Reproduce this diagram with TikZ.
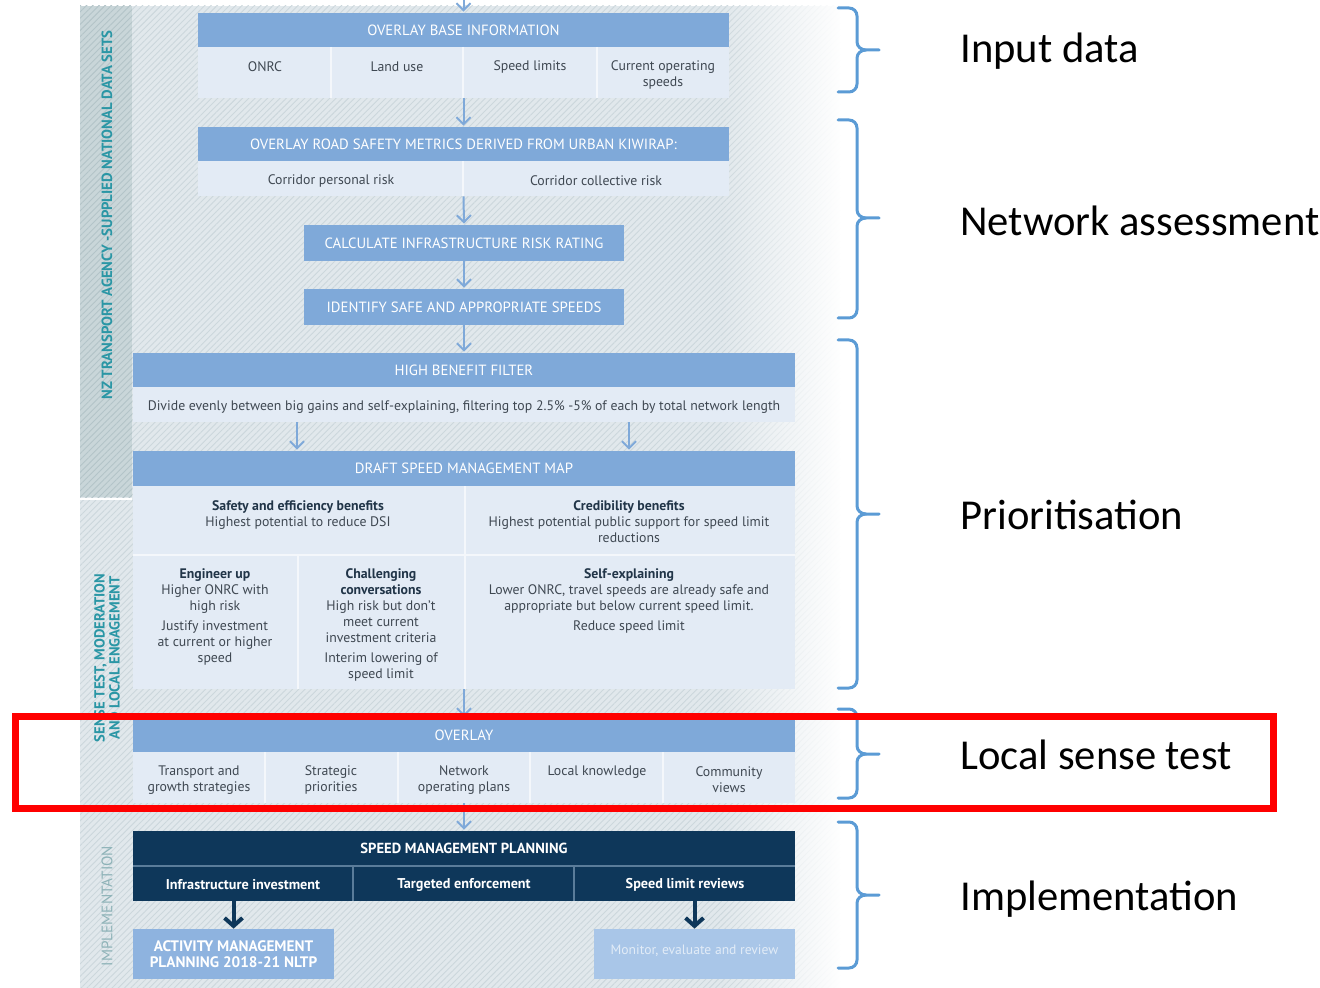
\documentclass[tikz,border=0pt]{standalone}
\usepackage{fontspec}
\setmainfont{PT Sans}
\newfontfamily\calib{Carlito}
\usetikzlibrary{arrows.meta,patterns.meta,fadings}
\definecolor{hdrblue}{HTML}{7FA9D9}
\definecolor{bodyblue}{HTML}{E3EBF5}
\definecolor{divw}{HTML}{F4F7FB}
\definecolor{navyc}{HTML}{0E375A}
\definecolor{navyline}{HTML}{5A7C9A}
\definecolor{txtgray}{HTML}{3F4852}
\definecolor{titlec}{HTML}{213548}
\definecolor{sidetext}{HTML}{2A96A5}
\definecolor{implc}{HTML}{8DB2B7}
\definecolor{bgA}{HTML}{E1E8EC}
\definecolor{bgLine}{HTML}{CCD7DC}
\definecolor{sideA}{HTML}{C9D6D9}
\definecolor{sideLine}{HTML}{B3C4C8}
\definecolor{braceblue}{HTML}{5B9BD5}
\definecolor{boxnine}{HTML}{8EB3DF}
\definecolor{boxten}{HTML}{A9C6E8}
\definecolor{boxtent}{HTML}{E2ECF7}
\newcommand\ttlb[1]{{\bfseries\color{titlec}#1}}
\newcommand\drawbrace[3]{%
  \draw[brace] (838,#1) -- (849,#1) to[out=0,in=90] (857,#1+8) -- (857,#2-8) to[out=-90,in=180] (866,#2) -- (879,#2);
  \draw[brace] (866,#2) to[out=180,in=90] (857,#2+8) -- (857,#3-8) to[out=-90,in=0] (849,#3) -- (838,#3);}
\begin{document}
\begin{tikzpicture}[x=0.5pt,y=-0.5pt,
  hdr/.style={fill=hdrblue, text=white, inner sep=0pt, font=\fontsize{7.4}{8}\selectfont},
  bodybox/.style={fill=bodyblue, inner sep=0pt},
  navyb/.style={fill=navyc, text=white, inner sep=0pt, font=\bfseries\fontsize{7.3}{8}\selectfont},
  txt/.style={text=txtgray, inner sep=0pt, align=center, font=\fontsize{6.9}{8}\selectfont},
  cell8/.style={text=white, inner sep=0pt, font=\bfseries\fontsize{7.1}{8}\selectfont},
  divl/.style={draw=divw, line width=0.8pt},
  navdiv/.style={draw=navyline, line width=0.6pt},
  arr/.style={draw=hdrblue, line width=1pt, shorten >=0.5pt, -{Straight Barb[length=3.5pt,width=7pt]}},
  darr/.style={draw=navyc, line width=2pt, -{Straight Barb[length=4pt,width=9pt]}},
  brace/.style={draw=braceblue, line width=1.5pt, line cap=round},
  lbl/.style={anchor=west, inner sep=0pt, font=\calib\fontsize{21.3}{24}\selectfont},
  side/.style={rotate=90, inner sep=0pt, align=center, font=\bfseries\fontsize{7.4}{7.5}\selectfont, text=sidetext}
]
\useasboundingbox (0,0) rectangle (1320,988);
% background
\fill[bgA] (80,6) rectangle (840,988);
\fill[pattern={Lines[angle=45,distance=2.2pt,line width=0.45pt]}, pattern color=bgLine] (80,6) rectangle (840,988);
\fill[sideA] (80,6) rectangle (132,497);
\fill[pattern={Lines[angle=45,distance=2.2pt,line width=0.45pt]}, pattern color=sideLine] (80,6) rectangle (132,497);
\draw[white, line width=1pt] (80,498.5) -- (132,498.5);
\fill[white, path fading=west] (720,0) rectangle (842,988);
% sidebar texts
\node[side] (sd1) at (107,215) {NZ TRANSPORT AGENCY -SUPPLIED NATIONAL DATA SETS};
\node[side, font=\bfseries\fontsize{7.3}{7.5}\selectfont] (sd2) at (107,658) {SENSE TEST, MODERATION\\AND LOCAL ENGAGEMENT};
\node[side, text=implc, font=\fontsize{7.6}{8}\selectfont] (sd3) at (107,906) {IMPLEMENTATION};
% box 1
\coordinate (top) at (463.5,0);
\node[hdr, minimum width=265.5pt, minimum height=17pt] (b1h) at (463.5,30) {OVERLAY BASE INFORMATION};
\node[bodybox, minimum width=265.5pt, minimum height=25.5pt] (b1b) at (463.5,72.5) {};
\foreach \xx in {331,463,597} \draw[divl] (\xx,47) -- (\xx,98);
\node[txt] (c11) at (265,67) {ONRC};
\node[txt] (c12) at (397,67) {Land use};
\node[txt] (c13) at (530,67) {Speed limits};
\node[txt] (c14) at (663,75) {Current operating\\speeds};
% box 2
\node[hdr, minimum width=265.5pt, minimum height=17pt] (b2h) at (463.5,144) {OVERLAY ROAD SAFETY METRICS DERIVED FROM URBAN KIWIRAP:};
\node[bodybox, minimum width=265.5pt, minimum height=17.5pt] (b2b) at (463.5,178.5) {};
\draw[divl] (463,161) -- (463,196);
\node[txt] (c21) at (331,181) {Corridor personal risk};
\node[txt] (c22) at (596,181) {Corridor collective risk};
% box 3, 4
\node[hdr, minimum width=160pt, minimum height=18pt] (b3) at (464,243) {CALCULATE INFRASTRUCTURE RISK RATING};
\node[hdr, minimum width=160pt, minimum height=18pt] (b4) at (464,307) {IDENTIFY SAFE AND APPROPRIATE SPEEDS};
% box 5
\node[hdr, minimum width=331pt, minimum height=17pt] (b5h) at (464,370) {HIGH BENEFIT FILTER};
\node[bodybox, minimum width=331pt, minimum height=17.5pt] (b5b) at (464,404.5) {};
\node[txt] (t5) at (464,407) {Divide evenly between big gains and self-explaining, filtering top 2.5\% -5\% of each by total network length};
% box 6
\node[hdr, minimum width=331pt, minimum height=17.5pt] (b6h) at (464,468.5) {DRAFT SPEED MANAGEMENT MAP};
\node[bodybox, minimum width=331pt, minimum height=101.5pt] (b6b) at (464,587.5) {};
\draw[divl] (465,486) -- (465,689);
\draw[divl] (133,555) -- (795,555);
\draw[divl] (298,555) -- (298,689);
\node[txt, anchor=north] (s1) at (298,500) {\ttlb{Safety and efficiency benefits}\\Highest potential to reduce DSI};
\node[txt, anchor=north] (s2) at (629,500) {\ttlb{Credibility benefits}\\Highest potential public support for speed limit\\reductions};
\node[txt, anchor=north] (s3) at (215,568) {\ttlb{Engineer up}\\Higher ONRC with\\high risk\\[2pt]Justify investment\\at current or higher\\speed};
\node[txt, anchor=north] (s4) at (381,568) {\ttlb{Challenging}\\\ttlb{conversations}\\High risk but don't\\meet current\\investment criteria\\[2pt]Interim lowering of\\speed limit};
\node[txt, anchor=north] (s5) at (629,568) {\ttlb{Self-explaining}\\Lower ONRC, travel speeds are already safe and\\appropriate but below current speed limit.\\[2pt]Reduce speed limit};
% box 7
\node[hdr, minimum width=331pt, minimum height=17pt] (b7h) at (464,735) {OVERLAY};
\node[bodybox, minimum width=331pt, minimum height=25.5pt] (b7b) at (464,777.5) {};
\foreach \xx in {265,398,530,663} \draw[divl] (\xx,752) -- (\xx,803);
\node[txt] (c71) at (199,780) {Transport and\\growth strategies};
\node[txt] (c72) at (331,780) {Strategic\\priorities};
\node[txt] (c73) at (464,780) {Network\\operating plans};
\node[txt] (c74) at (597,772) {Local knowledge};
\node[txt] (c75) at (729,780) {Community\\views};
% box 8
\node[navyb, minimum width=331pt, minimum height=17.5pt] (b8h) at (464,848.5) {SPEED MANAGEMENT PLANNING};
\node[navyb, minimum width=331pt, minimum height=17.5pt] (b8r) at (464,883.5) {};
\draw[navdiv] (133,866) -- (795,866);
\draw[navdiv] (353,866) -- (353,901);
\draw[navdiv] (574,866) -- (574,901);
\node[cell8] (c81) at (243,885) {Infrastructure investment};
\node[cell8] (c82) at (464,885) {Targeted enforcement};
\node[cell8] (c83) at (685,885) {Speed limit reviews};
% box 9, 10
\node[fill=boxnine, text=white, inner sep=0pt, align=center, minimum width=100.5pt, minimum height=25pt, font=\bfseries\fontsize{7.6}{8}\selectfont] (b9) at (233.5,954) {ACTIVITY MANAGEMENT\\PLANNING 2018-21 NLTP};
\node[fill=boxten, text=boxtent, inner sep=0pt, minimum width=100.5pt, minimum height=25pt, font=\fontsize{6.8}{8}\selectfont] (b10) at (694.5,954) {\raisebox{4pt}{Monitor, evaluate and review}};
% arrows
\draw[arr] (top) -- (b1h.north);
\draw[arr] (b1b.south) -- (b2h.north);
\draw[arr] (b2b.south) -- (b3.north);
\draw[arr] (b3.south) -- (b4.north);
\draw[arr] (b4.south) -- (b5h.north);
\coordinate (ax1) at (297,0);
\coordinate (ax2) at (629,0);
\draw[arr] (b5b.south -| ax1) -- (b6h.north -| ax1);
\draw[arr] (b5b.south -| ax2) -- (b6h.north -| ax2);
\draw[arr] (b6b.south) -- (b7h.north);
\draw[arr] (b7b.south) -- (b8h.north);
\draw[darr] (b8r.south -| b9.north) -- (b9.north);
\draw[darr] (b8r.south -| b10.north) -- (b10.north);
% braces and labels
\drawbrace{8}{50}{92}
\drawbrace{120}{218}{318}
\drawbrace{340}{514}{688}
\drawbrace{709}{754}{798}
\drawbrace{822}{895}{968}
\node[lbl] (l1) at (960,51) {Input data};
\node[lbl] (l2) at (960,221) {Network assessment};
\node[lbl] (l3) at (960,515) {Prioritisation};
\node[lbl] (l4) at (960,755) {Local sense test};
\node[lbl] (l5) at (960,899) {Implementation};
% red highlight
\draw[red, line width=3.5pt] (15.5,716.5) rectangle (1273.5,808.5);
\end{tikzpicture}
\end{document}
